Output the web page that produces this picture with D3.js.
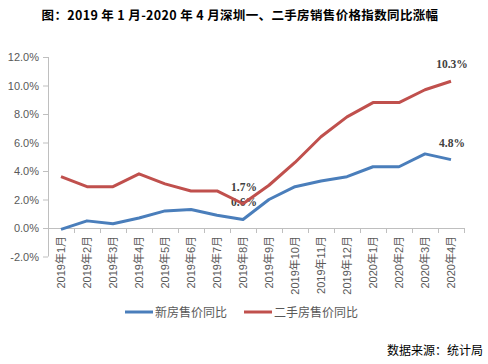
<!DOCTYPE html>
<html><head><meta charset="utf-8">
<script src="https://cdn.jsdelivr.net/npm/d3@7/dist/d3.min.js"></script>
<style>body{margin:0;background:#fff}svg{display:block}</style>
</head><body><svg id="c" width="488" height="364"></svg>
<script>
const months = ["2019年1月","2019年2月","2019年3月","2019年4月","2019年5月","2019年6月","2019年7月","2019年8月","2019年9月","2019年10月","2019年11月","2019年12月","2020年1月","2020年2月","2020年3月","2020年4月"];
const newHome = [-0.1,0.5,0.3,0.7,1.2,1.3,0.9,0.6,2.0,2.9,3.3,3.6,4.3,4.3,5.2,4.8];
const secondHome = [3.6,2.9,2.9,3.8,3.1,2.6,2.6,1.7,3.0,4.6,6.4,7.8,8.8,8.8,9.7,10.3];
const yTicks = [-2,0,2,4,6,8,10,12];
const seriesNames = ["新房售价同比","二手房售价同比"];
const labelIdx = {0:[7,15],1:[7,15]};

const svg = d3.select("#c");
const x = d3.scaleBand().domain(months).range([48,464]);
const y = d3.scaleLinear().domain([-2,12]).range([256.5,57]);
const axisColor = "#bfbfbf", txt = "#595959";

svg.append("text").attr("x",240).attr("y",20).attr("text-anchor","middle")
  .attr("font-family","'Noto Sans CJK SC'").attr("font-weight","bold").attr("font-size",12.5)
  .attr("letter-spacing",0.35).attr("fill","#000")
  .text("图：2019 年 1 月-2020 年 4 月深圳一、二手房销售价格指数同比涨幅");

// y axis
const ya = svg.append("g").attr("transform","translate(48,0)").call(d3.axisLeft(y).tickValues(yTicks).tickSize(5).tickFormat(d=>d.toFixed(1)+"%"));
ya.select(".domain").attr("stroke",axisColor).attr("d","M0.5,"+y(-2)+"V"+y(12));
ya.selectAll(".tick line").attr("stroke",axisColor);
ya.selectAll(".tick text").attr("fill",txt).attr("font-family","'Liberation Sans'").attr("font-size",11).attr("x",-9);

// x axis at zero
const xa = svg.append("g").attr("transform","translate(0,"+Math.round(y(0))+")").call(d3.axisBottom(x).tickSize(0).tickFormat(""));
xa.select(".domain").attr("stroke",axisColor);
const bounds = months.map(m=>x(m)).concat([x.range()[1]]);
svg.append("g").selectAll("line").data(bounds.slice(1)).join("line")
  .attr("x1",d=>Math.round(d)+0.5).attr("x2",d=>Math.round(d)+0.5)
  .attr("y1",Math.round(y(0))).attr("y2",Math.round(y(0))+5).attr("stroke",axisColor);
svg.append("g").selectAll("text").data(months).join("text")
  .attr("transform",d=>`translate(${x(d)+x.bandwidth()/2+4},236) rotate(-90)`)
  .attr("text-anchor","end").attr("fill",txt).attr("font-family","'Liberation Sans','Noto Sans CJK SC'").attr("font-size",11)
  .text(d=>d);

const colors = ["#4a7ebb","#c0504d"];
const line = d3.line().x((d,i)=>x(months[i])+x.bandwidth()/2).y(d=>y(d));
[newHome,secondHome].forEach((s,k)=>{
  svg.append("path").datum(s).attr("d",line).attr("fill","none").attr("stroke",colors[k])
    .attr("stroke-width",3).attr("stroke-linejoin","round");
  labelIdx[k].forEach(i=>{
    svg.append("text").attr("x",x(months[i])+x.bandwidth()/2+1).attr("y",y(s[i])-13)
      .attr("text-anchor","middle").attr("font-family","'Liberation Serif'").attr("font-weight","bold")
      .attr("font-size",11.5).attr("fill","#404040").text(s[i].toFixed(1)+"%");
  });
});

// legend
const lg = [[125,seriesNames[0]],[244,seriesNames[1]]];
lg.forEach(([lx,name],k)=>{
  svg.append("line").attr("x1",lx).attr("x2",lx+28).attr("y1",312).attr("y2",312).attr("stroke",colors[k]).attr("stroke-width",3);
  svg.append("text").attr("x",lx+30).attr("y",316.5).attr("fill",txt).attr("font-family","'Noto Sans CJK SC'").attr("font-size",12).text(name);
});

svg.append("text").attr("x",483).attr("y",355).attr("text-anchor","end").attr("fill","#000")
  .attr("font-family","'Noto Sans CJK SC'").attr("font-size",12).text("数据来源：统计局");
</script></body></html>
